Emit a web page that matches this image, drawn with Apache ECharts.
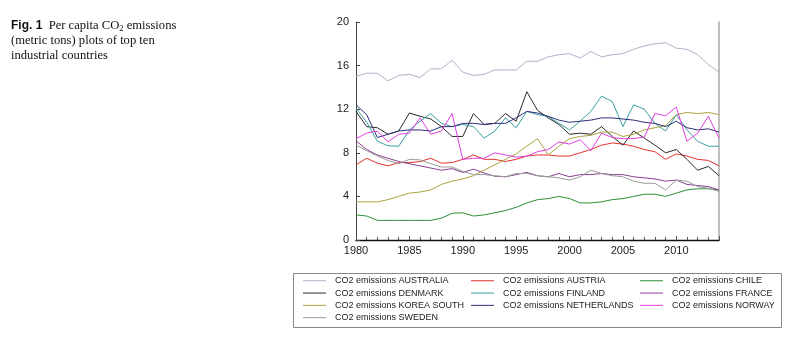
<!DOCTYPE html>
<html>
<head>
<meta charset="utf-8">
<script src="https://cdn.jsdelivr.net/npm/echarts@6/dist/echarts.min.js"></script>
<style>
html,body{margin:0;padding:0;background:#fff;}
#chart{width:800px;height:339px;}
</style>
</head>
<body>
<div id="chart"></div>
<script>
var years = [];
for (var y = 1980; y <= 2014; y++) years.push(y);

var australia = [15.0,15.3,15.3,14.6,15.1,15.2,14.9,15.7,15.7,16.5,15.4,15.1,15.2,15.6,15.6,15.6,16.4,16.4,16.8,17.0,17.1,16.7,17.3,16.8,17.0,17.1,17.5,17.8,18.0,18.1,17.6,17.5,17.0,16.1,15.4];
var austria = [6.9,7.5,7.05,6.8,7.1,7.1,7.2,7.5,7.05,7.1,7.4,7.8,7.4,7.4,7.2,7.4,7.7,7.8,7.8,7.7,7.7,8.0,8.3,8.7,8.9,8.8,8.6,8.3,8.1,7.4,7.9,7.7,7.4,7.3,6.8];
var chile = [2.3,2.2,1.8,1.8,1.8,1.8,1.8,1.8,2.0,2.45,2.5,2.2,2.3,2.5,2.7,3.0,3.4,3.7,3.8,4.0,3.8,3.4,3.4,3.5,3.7,3.8,4.0,4.2,4.2,4.0,4.3,4.6,4.7,4.7,4.6];
var denmark = [11.8,10.4,10.3,9.7,10.0,11.65,11.35,11.1,10.4,9.5,9.5,11.6,10.6,10.7,11.6,10.9,13.6,11.9,11.2,10.6,9.7,9.8,9.7,10.4,9.5,8.7,10.0,9.35,8.7,8.0,8.3,7.4,6.4,6.75,5.9];
var finland = [12.1,10.8,9.05,8.65,8.6,10.1,10.9,11.6,10.7,10.4,10.6,10.4,9.35,10.0,11.2,10.3,11.8,11.5,11.35,10.7,10.1,10.9,11.8,13.2,12.7,10.4,12.4,12.0,10.7,10.0,11.5,10.1,9.05,8.6,8.6];
var france = [9.1,8.3,7.8,7.5,7.2,7.0,6.8,6.6,6.4,6.55,6.2,6.5,6.15,5.85,5.8,6.0,6.2,5.9,5.8,6.1,5.8,6.0,6.0,6.1,6.0,6.0,5.8,5.7,5.6,5.4,5.5,5.1,5.0,4.9,4.6];
var koreaSouth = [3.5,3.5,3.5,3.7,4.0,4.3,4.4,4.6,5.1,5.4,5.6,5.9,6.4,6.9,7.4,7.9,8.6,9.3,7.8,8.6,9.3,9.5,9.6,9.9,9.9,9.5,9.7,10.1,10.3,10.5,11.5,11.7,11.6,11.7,11.5];
var netherlands = [12.4,11.5,9.4,9.7,10.0,10.1,10.1,10.0,10.4,10.4,10.7,10.7,10.6,10.7,10.7,11.2,11.8,11.65,11.35,11.0,10.8,10.9,11.0,11.2,11.2,11.1,11.0,10.8,10.7,10.4,10.9,10.3,10.1,10.2,9.9];
var norway = [9.3,9.8,10.0,9.0,9.7,9.8,11.2,9.7,10.0,11.6,7.4,7.5,7.5,8.0,7.8,7.6,7.7,8.1,8.3,9.0,8.8,9.2,8.2,9.8,9.4,9.3,9.3,9.45,11.6,11.4,12.2,9.05,9.8,11.35,9.35];
var sweden = [8.7,8.2,7.7,7.3,7.0,7.4,7.35,7.0,6.7,6.7,6.3,6.0,6.0,5.9,5.8,6.1,6.1,5.9,5.8,5.7,5.5,5.8,6.4,6.1,5.9,5.8,5.4,5.2,5.2,4.6,5.5,5.4,4.9,4.75,4.45];

var yTicks = [0, 4, 8, 12, 16, 20];
var xTicks = [1980, 1985, 1990, 1995, 2000, 2005, 2010];

var seriesDefs = [
  {name: 'CO2 emissions AUSTRALIA', data: australia, color: '#b2b2c9'},
  {name: 'CO2 emissions AUSTRIA', data: austria, color: '#e2332e'},
  {name: 'CO2 emissions CHILE', data: chile, color: '#2f8f35'},
  {name: 'CO2 emissions DENMARK', data: denmark, color: '#2a2a2a'},
  {name: 'CO2 emissions FINLAND', data: finland, color: '#3a9ea2'},
  {name: 'CO2 emissions FRANCE', data: france, color: '#8a3f92'},
  {name: 'CO2 emissions KOREA SOUTH', data: koreaSouth, color: '#aaa23e'},
  {name: 'CO2 emissions NETHERLANDS', data: netherlands, color: '#2c2f78'},
  {name: 'CO2 emissions NORWAY', data: norway, color: '#e23ee2'},
  {name: 'CO2 emissions SWEDEN', data: sweden, color: '#9c9c9c'}
];

var series = seriesDefs.map(function (s) {
  return {
    name: s.name,
    type: 'line',
    symbol: 'none',
    showSymbol: false,
    animation: false,
    color: s.color,
    lineStyle: {width: 1, color: s.color},
    data: s.data.map(function (v, i) { return [years[i], v]; })
  };
});

var legendText = {fontFamily: 'Liberation Sans, Arial, sans-serif', fontSize: 9, color: '#222',
  lineHeight: 12.3, padding: [0, 0, 0, 4]};
function mkLegend(names, left) {
  return {
    orient: 'vertical', left: left, top: 274.6,
    data: names, itemWidth: 23, itemHeight: 1, itemGap: 0,
    icon: 'rect',
    textStyle: legendText, padding: 0, selectedMode: false
  };
}

var chart = echarts.init(document.getElementById('chart'), null, {renderer: 'canvas'});
chart.setOption({
  animation: false,
  backgroundColor: '#fff',
  grid: {left: 356, right: 81, top: 22, bottom: 99},
  title: {
    left: 11, top: 18, padding: 0,
    text: '{b|Fig. 1}{s|  Per capita CO}{sub|2}{s| emissions}\n{s|(metric tons) plots of top ten}\n{s|industrial countries}',
    textStyle: {
      fontWeight: 'normal',
      rich: {
        b: {fontFamily: 'Liberation Sans, Arial, sans-serif', fontWeight: 'bold', fontSize: 12, color: '#111', lineHeight: 15},
        s: {fontFamily: 'Liberation Serif, Times New Roman, serif', fontWeight: 'normal', fontSize: 12.6, color: '#111', lineHeight: 15},
        sub: {fontFamily: 'Liberation Serif, Times New Roman, serif', fontWeight: 'normal', fontSize: 8.5, color: '#111', lineHeight: 15, padding: [6, 0, 0, 0]}
      }
    }
  },
  legend: [
    mkLegend(['CO2 emissions AUSTRALIA', 'CO2 emissions DENMARK', 'CO2 emissions KOREA SOUTH', 'CO2 emissions SWEDEN'], 303),
    mkLegend(['CO2 emissions AUSTRIA', 'CO2 emissions FINLAND', 'CO2 emissions NETHERLANDS'], 471),
    mkLegend(['CO2 emissions CHILE', 'CO2 emissions FRANCE', 'CO2 emissions NORWAY'], 640)
  ],
  graphic: [{
    type: 'rect',
    shape: {x: 293.5, y: 273.5, width: 488, height: 54},
    style: {fill: 'none', stroke: '#888', lineWidth: 1}
  }],
  xAxis: [{
    type: 'value', min: 1980, max: 2014, interval: 5,
    axisLine: {lineStyle: {color: '#777', width: 1}},
    axisTick: {show: true, inside: true, length: 4, lineStyle: {color: '#555'}},
    minorTick: {show: true, splitNumber: 5, length: 3, lineStyle: {color: '#555'}},
    splitLine: {show: false},
    axisLabel: {
      margin: 5, fontFamily: 'Liberation Sans, Arial, sans-serif', fontSize: 11, color: '#222',
      showMaxLabel: false,
      formatter: function (v) { return xTicks.indexOf(v) >= 0 ? String(v) : ''; }
    }
  }, {
    type: 'value', min: 1980, max: 2014, position: 'top',
    axisLine: {show: true, lineStyle: {color: '#111', width: 1.3}},
    axisTick: {show: false}, axisLabel: {show: false}, splitLine: {show: false}
  }],
  yAxis: [{
    type: 'value', min: 0, max: 20, interval: 4,
    axisLine: {show: true, lineStyle: {color: '#444', width: 1}},
    axisTick: {show: true, inside: true, length: 4, lineStyle: {color: '#444'}},
    splitLine: {show: false},
    axisLabel: {
      margin: 7, fontFamily: 'Liberation Sans, Arial, sans-serif', fontSize: 11, color: '#222',
      formatter: function (v) { return yTicks.indexOf(v) >= 0 ? String(v) : ''; }
    }
  }, {
    type: 'value', min: 0, max: 20, position: 'right',
    axisLine: {show: true, lineStyle: {color: '#aaa', width: 1.5}},
    axisTick: {show: false}, axisLabel: {show: false}, splitLine: {show: false}
  }],
  series: series
});
</script>
</body>
</html>
